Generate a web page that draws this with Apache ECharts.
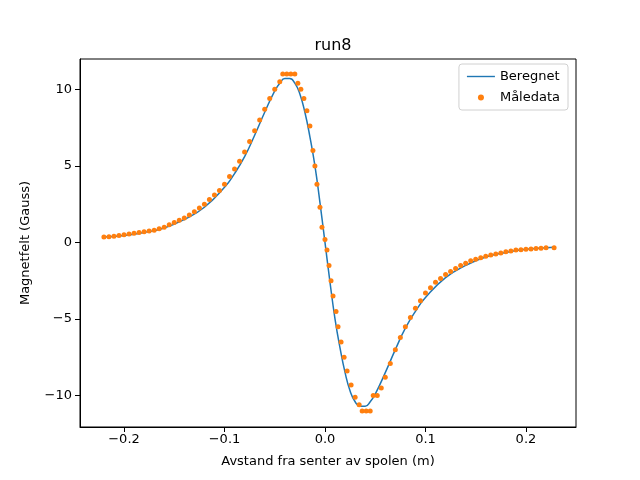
<!DOCTYPE html>
<html>
<head>
<meta charset="utf-8">
<script src="https://cdn.jsdelivr.net/npm/echarts@6/dist/echarts.min.js"></script>
<style>html,body{margin:0;padding:0;background:#fff}#c{width:640px;height:480px}</style>
</head>
<body>
<div id="c"></div>
<script>
// Beregnet (computed) curve
var calcX = [-0.22, -0.2, -0.18, -0.16, -0.14, -0.12, -0.1, -0.09, -0.08, -0.07, -0.06, -0.05, -0.045, -0.04, -0.035, -0.03, -0.025, -0.02, -0.015, -0.01, -0.005, 0, 0.005, 0.01, 0.015, 0.02, 0.025, 0.03, 0.035, 0.04, 0.045, 0.05, 0.06, 0.07, 0.08, 0.09, 0.1, 0.12, 0.14, 0.16, 0.18, 0.2, 0.22, 0.228];
var calcY = [0.35, 0.45, 0.65, 0.95, 1.5, 2.3, 3.6, 4.5, 5.6, 7.0, 8.5, 9.9, 10.4, 10.7, 10.7, 10.4, 9.7, 8.5, 6.9, 5.0, 2.6, 0, -2.6, -5.0, -6.9, -8.5, -9.7, -10.4, -10.7, -10.7, -10.4, -9.9, -8.5, -7.0, -5.6, -4.5, -3.6, -2.3, -1.5, -0.95, -0.65, -0.45, -0.35, -0.32];

// Måledata (measured)
var measX = [-0.22, -0.215, -0.21, -0.205, -0.2, -0.195, -0.19, -0.185, -0.18, -0.175, -0.17, -0.165, -0.16, -0.155, -0.15, -0.145, -0.14, -0.135, -0.13, -0.125, -0.12, -0.115, -0.11, -0.105, -0.1, -0.095, -0.09, -0.085, -0.08, -0.075, -0.07, -0.065, -0.06, -0.055, -0.05, -0.045, -0.042, -0.038, -0.034, -0.03, -0.027, -0.024, -0.021, -0.018, -0.015, -0.012, -0.01, -0.008, -0.005, -0.003, 0, 0.002, 0.004, 0.006, 0.008, 0.011, 0.013, 0.016, 0.019, 0.022, 0.026, 0.03, 0.034, 0.037, 0.041, 0.045, 0.048, 0.052, 0.056, 0.06, 0.065, 0.07, 0.075, 0.08, 0.085, 0.09, 0.095, 0.1, 0.105, 0.11, 0.115, 0.12, 0.125, 0.13, 0.135, 0.14, 0.145, 0.15, 0.155, 0.16, 0.165, 0.17, 0.175, 0.18, 0.185, 0.19, 0.195, 0.2, 0.205, 0.21, 0.215, 0.22, 0.228];
var measY = [0.35, 0.37, 0.4, 0.45, 0.5, 0.55, 0.6, 0.65, 0.7, 0.75, 0.8, 0.9, 1.0, 1.15, 1.3, 1.45, 1.6, 1.8, 2.0, 2.25, 2.5, 2.8, 3.1, 3.4, 3.8, 4.3, 4.8, 5.3, 5.9, 6.6, 7.3, 8.0, 8.7, 9.4, 10.0, 10.5, 11.0, 11.0, 11.0, 11.0, 10.4, 10.0, 9.4, 8.6, 7.6, 6.0, 5.0, 3.8, 2.3, 1.0, 0.2, -0.5, -1.5, -2.5, -3.5, -4.5, -5.5, -6.5, -7.5, -8.4, -9.3, -10.1, -10.6, -11, -11, -11, -10.0, -10.0, -9.5, -8.8, -7.9, -7.0, -6.2, -5.5, -4.9, -4.3, -3.8, -3.3, -2.95, -2.6, -2.35, -2.1, -1.9, -1.7, -1.5, -1.35, -1.2, -1.1, -1.0, -0.9, -0.82, -0.75, -0.68, -0.6, -0.55, -0.5, -0.47, -0.45, -0.42, -0.4, -0.38, -0.35, -0.35];

var xTicks = [-0.2, -0.1, 0, 0.1, 0.2];
var yTicks = [-10, -5, 0, 5, 10];

function zip(a, b) {
  return a.map(function (v, i) { return [v, b[i]]; });
}
function minus(s) { return String(s).replace('-', '\u2212'); }

var font = 'DejaVu Sans';
var chart = echarts.init(document.getElementById('c'), null, { renderer: 'canvas' });
chart.setOption({
  animation: false,
  textStyle: { fontFamily: font },
  title: {
    text: 'run8', left: 328, top: 33, textAlign: 'center',
    textStyle: { fontFamily: font, fontSize: 16, fontWeight: 'normal', color: '#000' }
  },
  grid: { left: 80, right: 64, top: 59, bottom: 53, show: true, borderColor: '#000', borderWidth: 1 },
  legend: {
    orient: 'vertical', right: 72, top: 64,
    backgroundColor: '#fff', borderColor: '#d0d0d0', borderWidth: 1, borderRadius: 3,
    padding: [6, 8, 6, 8], itemGap: 8, itemWidth: 28, itemHeight: 6,
    textStyle: { fontFamily: font, fontSize: 13, color: '#000' },
    data: [
      { name: 'Beregnet', icon: 'path://M0,0 L30,0 L30,1.5 L0,1.5 Z' },
      { name: 'Måledata', icon: 'circle' }
    ]
  },
  xAxis: {
    type: 'value', min: -0.2438, max: 0.2498,
    name: 'Avstand fra senter av spolen (m)', nameLocation: 'middle', nameGap: 28,
    nameTextStyle: { fontFamily: font, fontSize: 13, color: '#000' },
    axisLine: { onZero: false, lineStyle: { color: '#000' } },
    splitLine: { show: false },
    axisTick: { customValues: xTicks, length: 5, lineStyle: { color: '#000' } },
    axisLabel: {
      customValues: xTicks, fontSize: 13, color: '#000', margin: 6,
      formatter: function (v) { return minus(v.toFixed(1)); }
    }
  },
  yAxis: {
    type: 'value', min: -12.05, max: 11.98,
    name: 'Magnetfelt (Gauss)', nameLocation: 'middle', nameGap: 48,
    nameTextStyle: { fontFamily: font, fontSize: 13, color: '#000' },
    axisLine: { onZero: false, lineStyle: { color: '#000' } },
    splitLine: { show: false },
    axisTick: { customValues: yTicks, length: 5, lineStyle: { color: '#000' } },
    axisLabel: {
      customValues: yTicks, fontSize: 13, color: '#000', margin: 8,
      formatter: function (v) { return minus(Math.round(v)); }
    }
  },
  series: [
    {
      name: 'Beregnet', type: 'line', data: zip(calcX, calcY), smooth: true,
      symbol: 'none', lineStyle: { color: '#1f77b4', width: 1.5 }, itemStyle: { color: '#1f77b4' }, z: 2
    },
    {
      name: 'Måledata', type: 'scatter', data: zip(measX, measY),
      symbolSize: 5, itemStyle: { color: '#ff7f0e', opacity: 1 }, z: 3
    }
  ]
});
</script>
</body>
</html>
